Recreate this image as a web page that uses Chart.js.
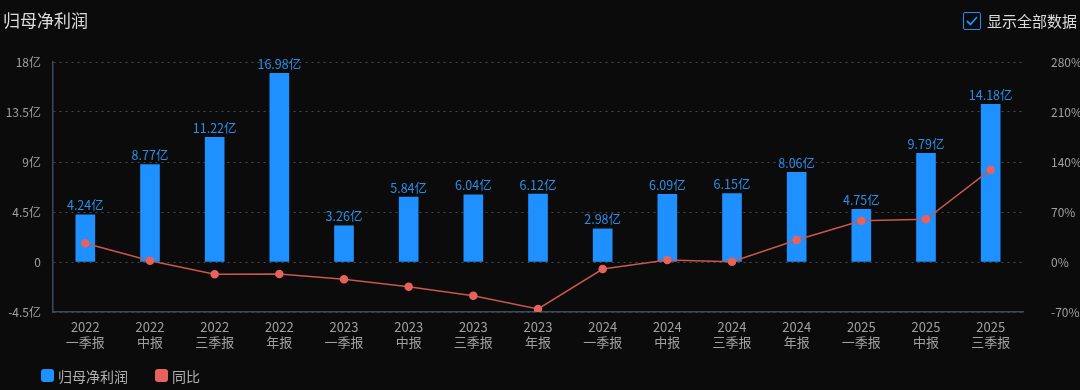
<!DOCTYPE html>
<html><head><meta charset="utf-8">
<script src="https://cdn.jsdelivr.net/npm/chart.js@4.4.1/dist/chart.umd.min.js"></script>
<style>
html,body{margin:0;padding:0;background:#0b0b0b;}
#wrap{position:relative;width:1080px;height:390px;overflow:hidden;font-family:"Noto Sans CJK SC","Noto Sans",sans-serif;}
#title{position:absolute;left:3px;top:7px;color:#dcdcdc;font-size:17px;}
#chk{position:absolute;left:963px;top:12px;width:16px;height:16px;border:1.5px solid #1e8fff;border-radius:2px;}
#chk svg{position:absolute;left:1px;top:1px;}
#chkt{position:absolute;left:987px;top:10px;color:#dcdcdc;font-size:15px;}
.lg{position:absolute;top:366px;font-size:14px;color:#b0b0b0;}
.sw{position:absolute;top:369px;width:13px;height:13px;border-radius:3px;}
canvas{position:absolute;left:0;top:0;}
</style></head>
<body><div id="wrap">
<canvas id="c" width="1080" height="390"></canvas>
<div id="title">归母净利润</div>
<div id="chk"><svg width="14" height="14" viewBox="0 0 14 14"><polyline points="2,7 5.5,10.5 12,3" fill="none" stroke="#1e8fff" stroke-width="1.8"/></svg></div>
<div id="chkt">显示全部数据</div>
<div class="sw" style="left:41px;background:#1e90ff"></div>
<div class="lg" style="left:58px">归母净利润</div>
<div class="sw" style="left:155px;background:#e8625d"></div>
<div class="lg" style="left:172px">同比</div>
</div>
<script>
const years = ["2022","2022","2022","2022","2023","2023","2023","2023","2024","2024","2024","2024","2025","2025","2025"];
const periods = ["一季报","中报","三季报","年报","一季报","中报","三季报","年报","一季报","中报","三季报","年报","一季报","中报","三季报"];
const profit = [4.24,8.77,11.22,16.98,3.26,5.84,6.04,6.12,2.98,6.09,6.15,8.06,4.75,9.79,14.18];
const yoy = [26.2,1.8,-17.0,-16.8,-24.2,-34.5,-47.1,-65.8,-9.8,2.8,0.5,30.8,57.8,59.7,129.2];
const leftTicks = [-4.5,0,4.5,9,13.5,18];
const rightTicks = [-70,0,70,140,210,280];

const labels = years.map((y,i)=>[y,periods[i]]);
const FONT = '"Noto Sans CJK SC","Noto Sans",sans-serif';

const valueLabels = {
  id:'valueLabels',
  afterDatasetsDraw(chart){
    const ctx = chart.ctx;
    const meta = chart.getDatasetMeta(1);
    ctx.save();
    ctx.font = '12.5px '+FONT;
    ctx.fillStyle = '#2b8fe8';
    ctx.textAlign = 'center';
    ctx.textBaseline = 'bottom';
    meta.data.forEach((b,i)=>{
      ctx.fillText(profit[i].toFixed(2)+'亿', b.x, b.y-3);
    });
    ctx.restore();
  }
};

new Chart(document.getElementById('c'),{
  data:{
    labels,
    datasets:[
      {type:'line',label:'同比',data:yoy,yAxisID:'y1',borderColor:'#c9574f',borderWidth:1.5,
       pointBackgroundColor:'#e8625d',pointBorderColor:'#e8625d',pointRadius:3.5,tension:0,order:0},
      {type:'bar',label:'归母净利润',data:profit,yAxisID:'y',backgroundColor:'#1e90ff',barThickness:19,order:1}
    ]
  },
  options:{
    responsive:false,animation:false,
    layout:{padding:{top:62,bottom:0,left:0,right:0}},
    plugins:{legend:{display:false},tooltip:{enabled:false}},
    scales:{
      x:{
        grid:{display:false,drawTicks:false},
        border:{display:true,color:'#3b4a5c',width:1.5},
        ticks:{color:'#a0a0a0',font:{family:FONT,size:13,lineHeight:1.15},padding:8,maxRotation:0,autoSkip:false},
        afterFit(s){s.height=78;}
      },
      y:{
        position:'left',min:-4.5,max:18,
        afterBuildTicks(s){s.ticks=leftTicks.map(v=>({value:v}));},
        ticks:{color:'#a0a0a0',font:{family:FONT,size:12},padding:12,callback:v=>v===0?'0':v+'亿'},
        grid:{color:'#4a4a4a',lineWidth:1,drawTicks:false},
        border:{display:true,color:'#3b4a5c',width:1.5,dash:[2,4]},
        afterFit(s){s.width=53;}
      },
      y1:{
        position:'right',min:-70,max:280,
        afterBuildTicks(s){s.ticks=rightTicks.map(v=>({value:v}));},
        ticks:{color:'#a0a0a0',font:{family:FONT,size:12},padding:20,callback:v=>v+'%'},
        grid:{display:false},
        border:{display:false},
        afterFit(s){s.width=57;}
      }
    }
  },
  plugins:[valueLabels]
});
</script>
</body></html>
